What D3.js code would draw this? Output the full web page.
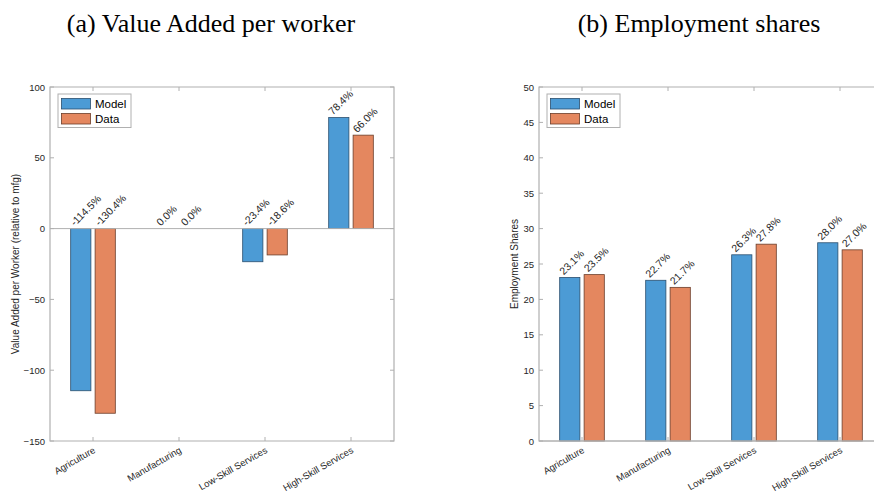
<!DOCTYPE html>
<html>
<head>
<meta charset="utf-8">
<script src="https://cdn.jsdelivr.net/npm/d3@7"></script>
<style>
html,body{margin:0;padding:0;background:#fff;}
svg{display:block;}
</style>
</head>
<body>
<svg id="chart" width="874" height="493"></svg>
<script>
const categories = ["Agriculture", "Manufacturing", "Low-Skill Services", "High-Skill Services"];
const seriesNames = ["Model", "Data"];
const vaModel = [-114.5, 0.0, -23.4, 78.4];
const vaData = [-130.4, 0.0, -18.6, 66.0];
const empModel = [23.1, 22.7, 26.3, 28.0];
const empData = [23.5, 21.7, 27.8, 27.0];
const vaTicks = [-150, -100, -50, 0, 50, 100];
const empTicks = [0, 5, 10, 15, 20, 25, 30, 35, 40, 45, 50];
const titles = ["(a) Value Added per worker", "(b) Employment shares"];
const yLabels = ["Value Added per Worker (relative to mfg)", "Employment Shares"];

const colors = ["#4c9bd5", "#e4875f"];
const edges = ["#2b4f6e", "#6b3e2a"];
const axisColor = "#b0b0b0";
const textColor = "#262626";
const svg = d3.select("#chart");

function panel(cfg) {
  const g = svg.append("g");
  const x = d3.scaleLinear().domain([0.5, 4.5]).range([cfg.left, cfg.right]);
  const y = d3.scaleLinear().domain(cfg.ydomain).range([cfg.bottom, cfg.top]);
  const unit = x(2) - x(1);
  const barW = unit * 0.235;
  const off = unit * 0.142;

  // title
  svg.append("text").attr("x", cfg.titleX).attr("y", 32)
    .attr("text-anchor", "middle")
    .style("font-family", "'Liberation Serif', 'Times New Roman', serif")
    .style("font-size", "26px").style("fill", "#000")
    .text(cfg.title);

  // bars
  const data = cfg.model.map((m, i) => ({i, vals: [m, cfg.data[i]]}));
  data.forEach(d => {
    d.vals.forEach((v, s) => {
      const cx = x(d.i + 1) + (s === 0 ? -off : off);
      const y0 = y(0), y1 = y(v);
      if (v !== 0) {
        g.append("rect")
          .attr("x", cx - barW / 2).attr("width", barW)
          .attr("y", Math.min(y0, y1)).attr("height", Math.abs(y1 - y0))
          .attr("fill", colors[s]).attr("stroke", edges[s]).attr("stroke-width", 0.8);
      }
      const ly = y(Math.max(v, 0)) - 2;
      g.append("text")
        .attr("transform", `translate(${cx - 6},${ly}) rotate(-45)`)
        .style("font-family", "'Liberation Sans', Arial, sans-serif")
        .style("font-size", "10.5px").style("fill", textColor)
        .text(v.toFixed(1) + "%");
    });
  });

  // baseline
  g.append("line").attr("x1", cfg.left).attr("x2", cfg.right)
    .attr("y1", y(0)).attr("y2", y(0))
    .attr("stroke", axisColor).attr("stroke-width", 1);

  // axes box
  const tl = 4;
  g.append("path")
    .attr("d", `M${cfg.left},${cfg.top}H${cfg.right}V${cfg.bottom}H${cfg.left}Z`)
    .attr("fill", "none").attr("stroke", axisColor).attr("stroke-width", 1.2);

  const yAxisL = d3.axisLeft(y).tickValues(cfg.yticks).tickSize(0).tickPadding(5);
  const ga = g.append("g").attr("transform", `translate(${cfg.left},0)`).call(yAxisL);
  ga.select(".domain").remove();
  ga.selectAll("text").style("font-family", "'Liberation Sans', Arial, sans-serif")
    .style("font-size", "9.5px").style("fill", textColor);

  cfg.yticks.forEach(t => {
    g.append("line").attr("x1", cfg.left).attr("x2", cfg.left + tl)
      .attr("y1", y(t)).attr("y2", y(t)).attr("stroke", axisColor);
    g.append("line").attr("x1", cfg.right).attr("x2", cfg.right - tl)
      .attr("y1", y(t)).attr("y2", y(t)).attr("stroke", axisColor);
  });

  const xAxis = d3.axisBottom(x).tickValues([1, 2, 3, 4]).tickSize(0).tickFormat(() => "");
  const gx = g.append("g").attr("transform", `translate(0,${cfg.bottom})`).call(xAxis);
  gx.select(".domain").remove();

  categories.forEach((c, i) => {
    const tx = x(i + 1);
    g.append("line").attr("x1", tx).attr("x2", tx)
      .attr("y1", cfg.bottom).attr("y2", cfg.bottom - tl).attr("stroke", axisColor);
    g.append("line").attr("x1", tx).attr("x2", tx)
      .attr("y1", cfg.top).attr("y2", cfg.top + tl).attr("stroke", axisColor);
    g.append("text")
      .attr("transform", `translate(${tx + 3},${cfg.bottom + 11}) rotate(-30)`)
      .attr("text-anchor", "end")
      .style("font-family", "'Liberation Sans', Arial, sans-serif")
      .style("font-size", "9.5px").style("fill", textColor)
      .text(c);
  });

  // y label
  g.append("text")
    .attr("transform", `translate(${cfg.ylabelX},${(cfg.top + cfg.bottom) / 2}) rotate(-90)`)
    .attr("text-anchor", "middle")
    .style("font-family", "'Liberation Sans', Arial, sans-serif")
    .style("font-size", "10px").style("fill", textColor)
    .text(cfg.ylabel);

  // legend
  const lx = cfg.left + 8, ly = 94;
  g.append("rect").attr("x", lx).attr("y", ly).attr("width", 73).attr("height", 33.5)
    .attr("fill", "#fff").attr("stroke", axisColor).attr("stroke-width", 1);
  seriesNames.forEach((n, s) => {
    g.append("rect").attr("x", lx + 3.5).attr("y", ly + 4.5 + s * 15).attr("width", 29).attr("height", 10.5)
      .attr("fill", colors[s]).attr("stroke", edges[s]).attr("stroke-width", 0.8);
    g.append("text").attr("x", lx + 37).attr("y", ly + 14 + s * 15)
      .style("font-family", "'Liberation Sans', Arial, sans-serif")
      .style("font-size", "11.5px").style("fill", "#000")
      .text(n);
  });
}

panel({left: 50, right: 394, top: 87, bottom: 441, ydomain: [-150, 100], yticks: vaTicks,
  model: vaModel, data: vaData, title: titles[0], titleX: 211, ylabel: yLabels[0], ylabelX: 19});
panel({left: 539, right: 883, top: 87, bottom: 441, ydomain: [0, 50], yticks: empTicks,
  model: empModel, data: empData, title: titles[1], titleX: 699, ylabel: yLabels[1], ylabelX: 518});
</script>
</body>
</html>
